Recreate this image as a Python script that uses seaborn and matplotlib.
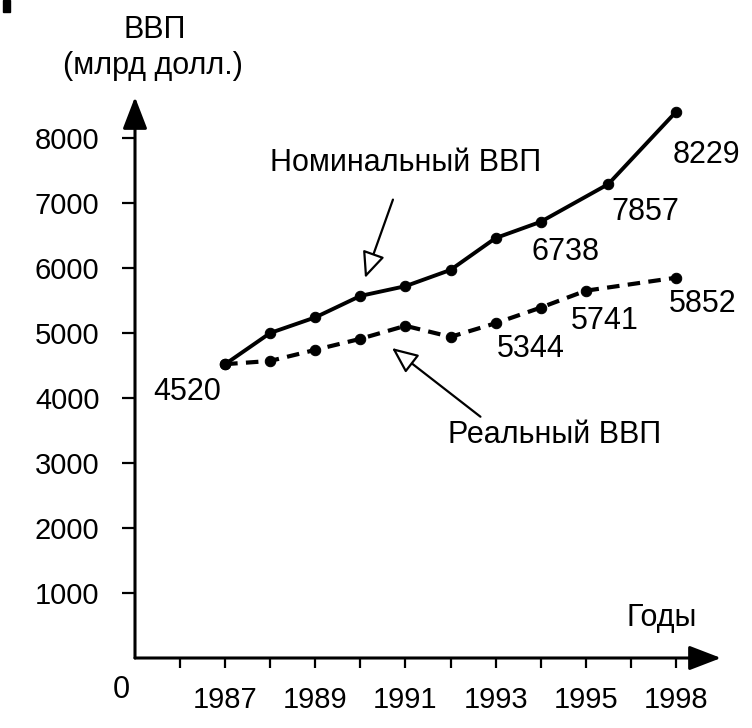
import matplotlib
matplotlib.use("Agg")
import matplotlib.pyplot as plt
from matplotlib import font_manager
from matplotlib.patches import Rectangle
import seaborn as sns

# values as drawn in the picture
years_nominal = [1987, 1988, 1989, 1990, 1991, 1992, 1993, 1994, 1995.5, 1997]
gdp_nominal = [4520, 5000, 5240, 5570, 5720, 5970, 6460, 6710, 7290, 8400]
years_real = [1987, 1988, 1989, 1990, 1991, 1992, 1993, 1994, 1995, 1997]
gdp_real = [4520, 4570, 4740, 4910, 5110, 4940, 5150, 5390, 5650, 5850]

y_ticks = [1000, 2000, 3000, 4000, 5000, 6000, 7000, 8000]
x_ticks = list(range(1986, 1998))
x_tick_labels = ["", "1987", "", "1989", "", "1991", "", "1993", "", "1995", "", "1998"]

# numbers printed next to some points: index -> text
nominal_notes = {0: "4520", 7: "6738", 8: "7857", 9: "8229"}
real_notes = {7: "5344", 8: "5741", 9: "5852"}

sns.set_theme(style="white")
names = {f.name for f in font_manager.fontManager.ttflist}
narrow = "Liberation Sans Narrow" if "Liberation Sans Narrow" in names else "Liberation Sans"
plt.rcParams["font.family"] = [narrow, "DejaVu Sans"]
plt.rcParams["text.color"] = "black"

W, H = 752, 728
fig = plt.figure(figsize=(W / 100, H / 100), dpi=100)
fig.patch.set_facecolor("white")
ax = fig.add_axes([135 / W, 1 - 658 / H, 586 / W, 561 / H])
ax.set_facecolor("white")

sns.lineplot(x=years_nominal, y=gdp_nominal, ax=ax, color="black", lw=2.8,
             marker="o", markersize=7.5, markeredgecolor="black", clip_on=False)
sns.lineplot(x=years_real, y=gdp_real, ax=ax, color="black", lw=3.0,
             linestyle=(0, (3, 2)), marker="o", markersize=7.5,
             markeredgecolor="black", clip_on=False)

ax.set_xlim(1985.0, 1998.0)
ax.set_ylim(0, 8630)
for s in ax.spines.values():
    s.set_visible(False)

ax.set_yticks(y_ticks)
ax.set_yticklabels([str(v) for v in y_ticks])
ax.set_xticks(x_ticks)
ax.set_xticklabels(x_tick_labels)
ax.tick_params(axis="y", direction="out", length=9.5, width=1.6, pad=16,
               labelsize=21, left=True, colors="black")
ax.tick_params(axis="x", direction="out", length=7, width=1.6, pad=13,
               labelsize=21, bottom=True, colors="black")
ax.set_xlabel("")
ax.set_ylabel("")

# axes drawn as arrows
head = "-|>,head_length=0.65,head_width=0.25"
for end in [(0, 1), (1, 0)]:
    ax.annotate("", xy=end, xytext=(0, 0), xycoords="axes fraction",
                arrowprops=dict(arrowstyle=head, color="black", lw=2.2,
                                mutation_scale=30, shrinkA=0, shrinkB=0))

# numbers next to points
offsets_nominal = {0: (-27, -20), 7: (18, -22), 8: (27, -20), 9: (22, -31)}
offsets_real = {7: (-7, -30), 8: (14, -22), 9: (19, -19)}
for xs, ys, notes, offs in [(years_nominal, gdp_nominal, nominal_notes, offsets_nominal),
                            (years_real, gdp_real, real_notes, offsets_real)]:
    for i, txt in notes.items():
        ax.annotate(txt, xy=(xs[i], ys[i]), xytext=offs[i], textcoords="offset points",
                    ha="center", va="center", fontsize=22, color="black")

# series captions with hollow arrows
ax.annotate("Номинальный ВВП", xy=(365, H - 278), xycoords="figure pixels",
            xytext=(406, H - 163), textcoords="figure pixels",
            ha="center", va="center", fontsize=22, color="black",
            arrowprops=dict(arrowstyle="-|>,head_length=0.8,head_width=0.35",
                            fc="white", ec="black", lw=1.6, mutation_scale=20,
                            shrinkA=14, shrinkB=0))
ax.annotate("Реальный ВВП", xy=(392, H - 348), xycoords="figure pixels",
            xytext=(555, H - 435), textcoords="figure pixels",
            ha="center", va="center", fontsize=22, color="black",
            arrowprops=dict(arrowstyle="-|>,head_length=0.8,head_width=0.35",
                            fc="white", ec="black", lw=1.6, mutation_scale=20,
                            shrinkA=0, shrinkB=0, relpos=(0.17, 1.0)))

fig.text(155 / W, 1 - 30 / H, "ВВП", ha="center", va="center", fontsize=22, color="black")
fig.text(153 / W, 1 - 66 / H, "(млрд долл.)", ha="center", va="center", fontsize=22, color="black")
fig.text(662 / W, 1 - 618 / H, "Годы", ha="center", va="center", fontsize=22, color="black")
fig.text(121 / W, 1 - 690 / H, "0", ha="center", va="center", fontsize=22, color="black")

# scan mark in the top left corner
fig.patches.append(Rectangle((3 / W, 1 - 12 / H), 7 / W, 12 / H,
                             transform=fig.transFigure, color="black"))

fig.savefig("out.png", dpi=100, facecolor="white")
